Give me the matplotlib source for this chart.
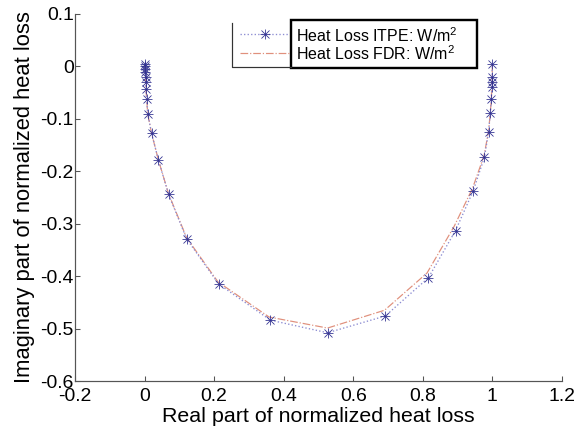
import matplotlib
matplotlib.use("Agg")
import matplotlib.pyplot as plt
from matplotlib.lines import Line2D
from matplotlib.patches import Rectangle

plt.rcParams['font.family'] = ['Liberation Sans', 'DejaVu Sans']
plt.rcParams['mathtext.fontset'] = 'custom'
plt.rcParams['mathtext.rm'] = 'Liberation Sans'
plt.rcParams['mathtext.it'] = 'Liberation Sans'

# ITPE data (real, imaginary)
itpe_re = [0.000, 0.001, 0.002, 0.002, 0.003, 0.003, 0.004, 0.006, 0.009, 0.020, 0.040,
           0.069, 0.121, 0.213, 0.362, 0.526, 0.692, 0.816, 0.894, 0.945, 0.977,
           0.989, 0.994, 0.997, 0.998, 0.999, 0.999, 1.000]
itpe_im = [0.005, 0.000, -0.005, -0.010, -0.021, -0.029, -0.044, -0.062, -0.090, -0.127, -0.179,
           -0.244, -0.329, -0.415, -0.484, -0.508, -0.476, -0.403, -0.313, -0.237, -0.173,
           -0.125, -0.088, -0.063, -0.040, -0.029, -0.021, 0.005]

# FDR data (real, imaginary)
fdr_re = [0.000, 0.001, 0.002, 0.002, 0.003, 0.003, 0.004, 0.006, 0.009, 0.020, 0.040,
          0.069, 0.121, 0.211, 0.358, 0.526, 0.690, 0.812, 0.890, 0.943, 0.976,
          0.989, 0.994, 0.997, 0.998, 0.999, 0.999, 1.000]
fdr_im = [0.005, 0.000, -0.005, -0.010, -0.021, -0.029, -0.044, -0.062, -0.090, -0.127, -0.179,
          -0.243, -0.327, -0.411, -0.478, -0.499, -0.465, -0.394, -0.305, -0.232, -0.170,
          -0.123, -0.087, -0.062, -0.040, -0.029, -0.021, 0.005]

xticks = [-0.2, 0, 0.2, 0.4, 0.6, 0.8, 1, 1.2]
yticks = [0.1, 0, -0.1, -0.2, -0.3, -0.4, -0.5, -0.6]
legend_labels = ['Heat Loss ITPE: W/m$^2$', 'Heat Loss FDR: W/m$^2$']

W, H = 576.0, 432.0
fig = plt.figure(figsize=(6, 4.5), dpi=96)
ax = fig.add_axes([75 / W, 1 - 381 / H, (562 - 75) / W, (381 - 14) / H])

itpe_color = '#8c8cd2'
fdr_color = '#e0907c'
mk_color = '#303090'
ax.plot(fdr_re, fdr_im, linestyle='-.', color=fdr_color, linewidth=0.9)
ax.plot(itpe_re, itpe_im, linestyle=':', color=itpe_color, linewidth=1.0)
# MATLAB-style asterisk markers (plus + cross)
ax.plot(itpe_re, itpe_im, linestyle='none', marker='+', markersize=8,
        markeredgecolor=mk_color, markeredgewidth=0.6)
ax.plot(itpe_re, itpe_im, linestyle='none', marker='x', markersize=5.5,
        markeredgecolor=mk_color, markeredgewidth=0.6)

ax.set_xlim(-0.2, 1.2)
ax.set_ylim(-0.6, 0.1)
ax.set_xticks(xticks)
ax.set_xticklabels(['-0.2', '0', '0.2', '0.4', '0.6', '0.8', '1', '1.2'])
ax.set_yticks(yticks)
ax.set_yticklabels(['0.1', '0', '-0.1', '-0.2', '-0.3', '-0.4', '-0.5', '-0.6'])
ax.spines['top'].set_visible(False)
ax.spines['right'].set_visible(False)
for s in ['left', 'bottom']:
    ax.spines[s].set_color('#555555')
    ax.spines[s].set_linewidth(0.9)
ax.tick_params(direction='in', length=4, width=0.8, color='#555555',
               labelsize=14.5)
ax.tick_params(axis='x', pad=5)
ax.tick_params(axis='y', pad=1)
ax.set_xlabel('Real part of normalized heat loss', fontsize=16, labelpad=2)
ax.set_ylabel('Imaginary part of normalized heat loss', fontsize=16.5, labelpad=4)

# Legend drawn in MATLAB style (figure pixel coordinates -> fractions)
def fx(px):
    return px / W
def fy(py):
    return 1 - py / H

fig.add_artist(Line2D([fx(232), fx(232), fx(291)], [fy(23), fy(67), fy(67)],
                      color='#333333', linewidth=0.9))
fig.add_artist(Rectangle((fx(291), fy(68)), fx(477) - fx(291), fy(20) - fy(68),
                         transform=fig.transFigure, fill=False, edgecolor='black',
                         linewidth=1.8))
fig.add_artist(Line2D([fx(240), fx(289)], [fy(34), fy(34)], linestyle=':',
                      color=itpe_color, linewidth=1.0))
fig.add_artist(Line2D([fx(265)], [fy(34)], marker='+', markersize=8,
                      markeredgecolor=mk_color, markeredgewidth=0.6, linestyle='none'))
fig.add_artist(Line2D([fx(265)], [fy(34)], marker='x', markersize=5.5,
                      markeredgecolor=mk_color, markeredgewidth=0.6, linestyle='none'))
fig.add_artist(Line2D([fx(240), fx(289)], [fy(53), fy(53)], linestyle='-.',
                      color=fdr_color, linewidth=0.9))
fig.text(fx(296), fy(36), legend_labels[0], fontsize=12, va='center', ha='left')
fig.text(fx(296), fy(54), legend_labels[1], fontsize=12, va='center', ha='left')

fig.savefig('out.png', dpi=96)
